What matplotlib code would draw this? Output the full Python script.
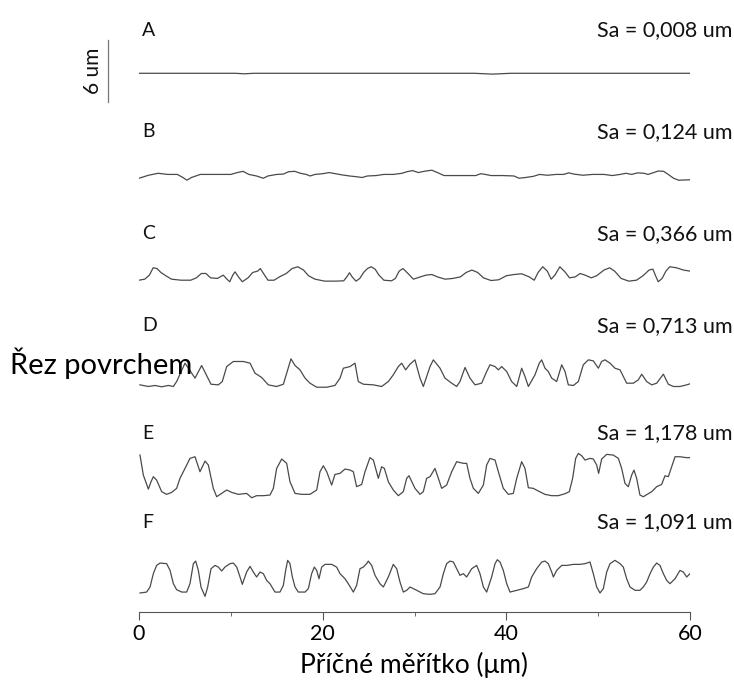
import numpy as np
import matplotlib
matplotlib.use("Agg")
import matplotlib.pyplot as plt

# surface profiles, x in um, height in um
labels = ["A", "B", "C", "D", "E", "F"]
sa_text = ["Sa = 0,008 um", "Sa = 0,124 um", "Sa = 0,366 um",
           "Sa = 0,713 um", "Sa = 1,178 um", "Sa = 1,091 um"]

a_x = [0, 10.5, 11.5, 12.5, 36.5, 38.5, 40.5, 60]
a_h = [0.05, 0.05, 0.0, 0.05, 0.05, -0.03, 0.05, 0.05]

b_x = [0.0, 1.04, 2.08, 3.13, 4.17, 4.79, 5.21, 5.71, 6.67, 8.33, 10.0, 10.71, 11.33, 11.96,
       12.79, 13.54, 14.04, 15.0, 15.71, 16.29, 16.96, 17.58, 18.21, 18.63, 19.17, 20.0, 20.71,
       21.38, 22.08, 22.92, 23.75, 24.29, 24.88, 25.83, 26.67, 27.71, 28.63, 29.17, 29.79, 30.42,
       31.04, 31.88, 32.5, 33.21, 34.38, 35.63, 36.67, 37.21, 37.71, 38.33, 39.58, 40.83, 41.38,
       42.08, 42.92, 43.63, 44.46, 45.42, 46.25, 46.79, 47.38, 48.33, 49.38, 50.63, 51.54, 52.38,
       53.04, 53.63, 54.29, 55.0, 55.42, 55.96, 56.54, 57.13, 57.63, 58.21, 58.75, 60.0]
b_h = [0.19, 0.48, 0.67, 0.56, 0.56, 0.26, 0.0, 0.26, 0.56, 0.56, 0.56, 0.74, 0.86, 0.56,
       0.41, 0.19, 0.41, 0.56, 0.59, 0.82, 0.86, 0.67, 0.56, 0.41, 0.56, 0.63, 0.74,
       0.63, 0.52, 0.41, 0.33, 0.26, 0.41, 0.45, 0.56, 0.56, 0.67, 0.82, 0.93, 0.74,
       0.86, 0.97, 0.74, 0.45, 0.45, 0.45, 0.45, 0.63, 0.56, 0.45, 0.45, 0.41, 0.19,
       0.26, 0.37, 0.56, 0.48, 0.56, 0.56, 0.71, 0.59, 0.48, 0.56, 0.56, 0.45, 0.56,
       0.67, 0.56, 0.71, 0.67, 0.56, 0.71, 0.89, 0.86, 0.56, 0.19, 0.0, 0.04]

c_x = [0.0, 0.63, 1.13, 1.54, 1.96, 2.38, 2.92, 3.54, 4.58, 5.63, 6.25, 6.79, 7.29, 7.79, 8.54,
       9.17, 9.58, 9.88, 10.21, 10.46, 10.83, 11.25, 11.88, 12.38, 12.92, 13.21, 13.63, 14.04,
       14.71, 15.29, 16.04, 16.67, 17.29, 17.92, 18.46, 19.17, 20.21, 21.46, 22.29, 22.63, 22.92,
       23.21, 23.63, 24.04, 24.46, 24.88, 25.29, 25.71, 26.13, 26.67, 27.5, 27.92, 28.33, 28.75,
       29.29, 29.88, 30.63, 31.25, 31.88, 32.5, 33.33, 34.17, 35.0, 35.63, 36.25, 36.88, 37.5,
       38.33, 39.17, 40.0, 40.83, 41.67, 42.5, 43.04, 43.46, 43.96, 44.46, 44.88, 45.29, 45.83,
       46.38, 46.88, 47.5, 48.04, 48.58, 49.25, 49.83, 50.63, 51.25, 51.79, 52.5, 53.33, 54.17,
       54.88, 55.54, 55.96, 56.25, 56.54, 56.96, 57.38, 57.79, 58.54, 59.29, 60.0]
c_h = [0.32, 0.42, 0.81, 1.52, 1.45, 1.07, 0.75, 0.42, 0.32, 0.32, 0.55, 0.97, 0.97, 0.55, 0.49,
       0.81, 0.42, 0.17, 0.81, 1.13, 0.64, 0.17, 0.55, 1.07, 1.2, 1.45, 0.87, 0.32,
       0.32, 0.64, 0.97, 1.45, 1.62, 1.3, 0.75, 0.42, 0.23, 0.23, 0.26, 0.64, 1.04,
       0.64, 0.23, 0.49, 1.07, 1.45, 1.62, 1.39, 0.81, 0.32, 0.26, 0.49, 1.2, 1.45,
       0.97, 0.42, 0.64, 0.81, 0.87, 0.64, 0.42, 0.49, 0.64, 1.07, 1.3, 1.07, 0.55,
       0.29, 0.36, 0.75, 0.87, 0.94, 0.64, 0.32, 1.07, 1.62, 1.2, 0.42, 0.81, 1.62,
       1.13, 0.55, 0.64, 0.97, 0.81, 0.55, 0.75, 1.3, 1.52, 1.2, 0.49, 0.23, 0.32,
       0.75, 1.3, 1.39, 0.75, 0.17, 0.49, 1.2, 1.62, 1.52, 1.3, 1.2]

d_x = [0.1, 1.02, 1.74, 2.47, 3.19, 3.74, 4.1, 5.01, 6.1, 6.82, 7.84, 8.64, 9.07, 9.55, 10.27,
       11.36, 12.09, 12.63, 13.36, 14.08, 14.99, 15.72, 16.19, 16.55, 16.99, 17.53, 18.08, 18.62,
       19.35, 20.44, 21.34, 21.89, 22.25, 22.98, 23.52, 23.88, 24.43, 25.52, 26.42, 27.15, 27.69,
       28.24, 28.6, 29.04, 29.51, 30.05, 30.6, 30.96, 31.69, 32.05, 32.78, 33.32, 34.05, 34.59,
       34.95, 35.5, 36.04, 36.59, 37.31, 37.86, 38.22, 38.77, 39.13, 39.49, 40.04, 40.58, 41.13,
       41.67, 42.03, 42.4, 43.12, 43.59, 43.85, 44.21, 44.57, 44.94, 45.48, 46.03, 46.39, 46.75,
       47.3, 47.84, 48.38, 48.93, 49.47, 50.02, 50.38, 50.74, 51.29, 51.83, 52.38, 52.74, 53.1,
       53.83, 54.37, 54.74, 55.28, 55.83, 56.37, 57.1, 57.64, 58.19, 58.91, 59.64, 60.0]
d_h = [0.29, 0.13, 0.23, 0.1, 0.23, 0.13, 0.61, 2.39, 0.94, 2.16, 0.35, 0.29, 0.61, 2.06, 2.55,
       2.55, 2.39, 1.42, 1.0, 0.29, 0.13, 0.35, 1.74, 2.81, 2.16, 1.74, 0.94, 0.45,
       0.06, 0.06, 0.23, 0.94, 1.9, 2.06, 2.39, 0.61, 0.35, 0.29, 0.13, 0.61, 1.26,
       2.06, 2.39, 1.74, 2.29, 2.71, 0.94, 0.13, 2.06, 2.71, 1.9, 0.94, 0.45, 0.13,
       0.61, 1.97, 0.94, 0.29, 0.45, 1.58, 2.23, 2.06, 1.74, 2.06, 1.58, 0.61, 0.13,
       1.9, 1.1, 0.13, 1.26, 2.39, 2.71, 1.9, 1.58, 0.94, 0.61, 2.23, 1.58, 0.29,
       0.23, 0.61, 2.23, 2.71, 2.61, 1.9, 2.55, 2.71, 2.39, 1.9, 1.74, 1.1, 0.45,
       0.45, 0.77, 1.32, 0.61, 0.29, 0.45, 1.32, 0.35, 0.13, 0.13, 0.29, 0.39]

e_x = [0.11, 0.47, 1.02, 1.31, 1.56, 1.92, 2.47, 3.01, 3.56, 4.1, 4.46, 5.01, 5.55, 6.1, 6.64,
       7.19, 7.55, 8.09, 8.46, 9.0, 9.55, 10.09, 10.82, 11.72, 12.27, 12.81, 13.54, 14.26, 14.63,
       14.99, 15.54, 16.08, 16.44, 16.99, 17.71, 18.62, 19.35, 19.71, 20.07, 20.44, 20.98, 21.34,
       21.89, 22.43, 22.98, 23.34, 23.7, 24.25, 24.61, 25.15, 25.52, 26.06, 26.42, 26.72, 27.15,
       27.69, 28.24, 28.78, 29.15, 29.4, 29.87, 30.05, 30.6, 30.96, 31.32, 31.69, 32.23, 32.6,
       32.96, 33.5, 34.05, 34.59, 35.32, 35.68, 36.04, 36.41, 36.95, 37.5, 37.86, 38.22, 38.77,
       39.13, 39.67, 40.22, 40.76, 41.13, 41.67, 42.03, 42.4, 42.94, 43.48, 44.21, 44.94, 45.66,
       46.39, 46.86, 47.22, 47.55, 47.84, 48.2, 48.57, 49.11, 49.47, 49.84, 50.05, 50.38, 50.93,
       51.65, 52.2, 52.56, 52.92, 53.28, 53.65, 53.9, 54.19, 54.55, 54.92, 55.35, 55.83, 56.37,
       56.91, 57.28, 57.64, 58.0, 58.37, 58.91, 59.64, 60.0]
e_h = [4.19, 2.26, 0.9, 1.61, 2.1, 1.77, 0.65, 0.39, 0.58, 0.97, 1.94, 2.9, 3.87, 4.03, 2.58,
       3.61, 3.23, 0.97, 0.16, 0.48, 0.81, 0.58, 0.39, 0.48, 0.06, 0.26, 0.26, 0.32, 0.97,
       2.9, 3.81, 3.39, 1.61, 0.48, 0.39, 0.39, 0.81, 2.58, 3.16, 2.58, 1.29, 2.32,
       2.42, 2.84, 2.74, 2.58, 1.13, 1.35, 2.58, 3.94, 3.71, 1.94, 3.06, 2.9, 1.61,
       0.81, 0.26, 0.65, 1.94, 2.19, 1.29, 0.97, 0.39, 0.65, 1.94, 2.1, 2.9, 1.94,
       0.97, 1.29, 2.58, 3.55, 3.39, 3.39, 1.94, 0.97, 0.48, 1.29, 3.23, 3.87, 3.71,
       2.58, 0.97, 0.39, 0.48, 1.94, 3.55, 2.9, 1.03, 0.97, 0.71, 0.39, 0.26, 0.26,
       0.45, 0.65, 1.94, 3.87, 4.35, 4.13, 3.71, 3.87, 3.81, 3.23, 2.42, 3.81, 4.26,
       4.19, 3.87, 2.9, 1.45, 1.13, 2.26, 2.74, 1.94, 0.32, 0.16, 0.39, 0.65, 1.13,
       1.35, 2.19, 2.1, 3.06, 4.03, 4.03, 3.94, 3.94]

f_x = [0.11, 0.83, 1.2, 1.56, 1.92, 2.29, 3.01, 3.38, 3.74, 4.1, 4.65, 5.19, 5.55, 5.92, 6.17,
       6.46, 6.75, 7.19, 7.48, 7.84, 8.28, 8.64, 9.0, 9.36, 9.91, 10.27, 10.64, 11.0, 11.25,
       11.72, 12.09, 12.45, 12.81, 13.18, 13.54, 13.9, 14.26, 14.81, 15.35, 15.72, 15.97, 16.19,
       16.44, 16.7, 16.99, 17.35, 18.08, 18.44, 18.8, 19.09, 19.35, 19.6, 19.89, 20.25, 20.98,
       21.52, 21.89, 22.43, 22.79, 23.34, 23.7, 24.06, 24.43, 24.79, 24.97, 25.34, 25.7, 26.24,
       26.61, 27.15, 27.69, 28.06, 28.42, 28.78, 29.15, 29.51, 30.24, 30.96, 31.69, 32.23, 32.78,
       33.14, 33.5, 33.87, 34.23, 34.59, 34.95, 35.32, 35.68, 36.23, 36.77, 37.13, 37.5, 37.86,
       38.4, 38.77, 39.02, 39.31, 39.67, 40.04, 40.4, 41.13, 41.85, 42.4, 42.76, 43.3, 43.85,
       44.21, 44.57, 44.94, 45.12, 45.48, 46.03, 46.57, 47.3, 48.02, 48.57, 49.11, 49.47, 49.84,
       50.2, 50.56, 50.93, 51.29, 51.83, 52.38, 52.74, 53.1, 53.47, 54.01, 54.55, 54.92, 55.28,
       55.65, 56.01, 56.37, 56.73, 57.1, 57.46, 57.82, 58.37, 58.91, 59.27, 59.64, 60.0]
f_h = [0.39, 0.48, 0.97, 2.26, 3.06, 3.29, 3.23, 2.58, 1.29, 0.71, 0.48, 0.48, 1.29, 3.23, 3.48,
       2.58, 0.97, 0.06, 0.97, 2.74, 3.06, 2.9, 2.52, 2.9, 3.23, 3.29, 2.9, 1.94, 1.23,
       2.42, 2.97, 2.42, 1.94, 2.42, 2.26, 1.61, 1.29, 0.48, 0.48, 1.13, 2.58, 3.55,
       3.23, 1.94, 0.97, 0.48, 0.48, 0.81, 2.26, 2.9, 2.58, 1.77, 2.9, 3.16, 3.16,
       2.9, 2.26, 1.77, 1.29, 0.48, 1.13, 2.74, 2.9, 3.23, 3.48, 3.06, 2.1, 1.29,
       0.97, 1.94, 3.16, 2.74, 1.45, 0.48, 0.65, 0.97, 0.65, 0.32, 0.26, 0.32, 0.97,
       2.26, 3.23, 3.48, 3.39, 2.74, 2.1, 2.26, 1.94, 2.74, 3.06, 2.26, 0.97, 0.48,
       1.94, 3.23, 3.61, 3.39, 2.58, 1.29, 0.48, 0.65, 0.81, 0.97, 1.94, 2.74, 3.39,
       3.48, 3.23, 2.42, 1.94, 2.58, 3.06, 3.06, 3.16, 3.16, 3.23, 3.39, 2.26, 0.97,
       0.39, 0.81, 2.42, 3.23, 3.55, 3.23, 2.9, 1.77, 0.97, 0.65, 0.65, 0.97, 1.45,
       2.26, 2.9, 3.29, 3.06, 2.26, 1.61, 1.29, 1.77, 2.58, 2.42, 1.94, 2.26]

profiles = [(a_x, a_h), (b_x, b_h), (c_x, c_h), (d_x, d_h), (e_x, e_h), (f_x, f_h)]
# vertical placement of each profile (um above the x axis)
offsets = [52.1, 41.8, 31.8, 21.7, 11.0, 1.45]
label_y = [56.3, 46.5, 36.6, 27.7, 17.3, 8.7]

narrow = ["Lato", "DejaVu Sans"]
big = ["Lato", "DejaVu Sans"]

fig = plt.figure(figsize=(7.34, 6.86), dpi=100)
ax = fig.add_axes([139 / 734, 1 - 612 / 686, 551 / 734, 612 / 686])

line_col = "#4a4a4a"
for (px, ph), off, lab, sa, ly in zip(profiles, offsets, labels, sa_text, label_y):
    ax.plot(px, np.array(ph) + off, color=line_col, lw=0.9)
    ax.text(0.3, ly, lab, fontsize=14, family=narrow, ha="left", va="center", color="#111111")
    ax.text(64.6, ly, sa, fontsize=15.5, family=narrow, ha="right", va="center",
            color="#111111", clip_on=False)

ax.set_xlim(0, 60)
ax.set_ylim(0, 612 / 10.33)

# 6 um scale bar
ax.plot([-3.38, -3.38], [49.4, 55.4], color="#777777", lw=0.9, clip_on=False)
ax.text(-5.0, 52.4, "6 um", rotation=90, fontsize=15, family=narrow, ha="center",
        va="center", color="#111111")

for s in ["left", "top", "right"]:
    ax.spines[s].set_visible(False)
ax.spines["bottom"].set_color("#555555")
ax.set_yticks([])
ax.set_xticks([0, 20, 40, 60])
ax.set_xticks([10, 30, 50], minor=True)
ax.tick_params(axis="x", which="major", length=6, color="#555555", labelsize=15.5, pad=3)
ax.tick_params(axis="x", which="minor", length=3, color="#555555")
for t in ax.get_xticklabels():
    t.set_family(narrow)

fig.text(414 / 734, 1 - 665 / 686, "Příčné měřítko (μm)", fontsize=19, family=big,
         ha="center", va="center")
fig.text(10 / 734, 1 - 363 / 686, "Řez povrchem", fontsize=21, family=big,
         ha="left", va="center")

fig.savefig("out.png", dpi=100)
